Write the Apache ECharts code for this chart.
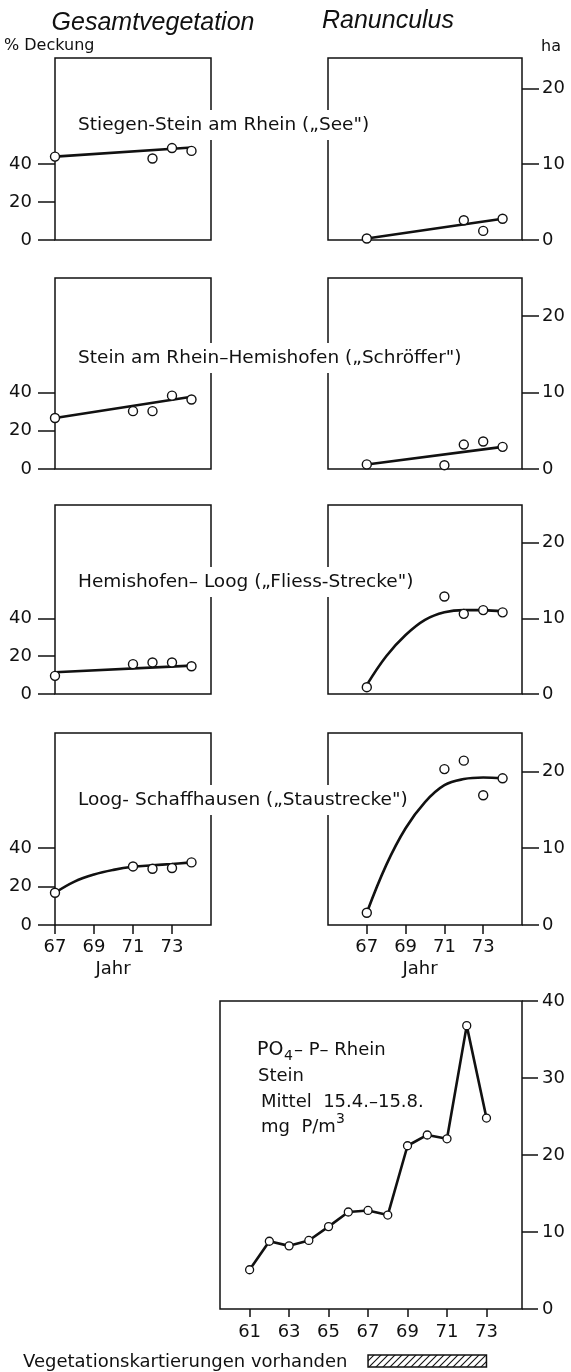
<!DOCTYPE html>
<html>
<head>
<meta charset="utf-8">
<title>Gesamtvegetation / Ranunculus / PO4-P Rhein</title>
<script src="https://cdn.jsdelivr.net/npm/echarts@6/dist/echarts.min.js"></script>
<style>
  html, body { margin: 0; padding: 0; background: #fff; }
  #main { width: 571px; height: 1372px; }
</style>
</head>
<body>
<div id="main"></div>
<script>
// --- Daten: Jahre der Kartierungen ---
var yearsSee = [67, 72, 73, 74];
var yearsOther = [67, 71, 72, 73, 74];

// Gesamtvegetation (% Deckung)
var gesSee = [44, 43, 48.5, 47];
var gesSchroeffer = [26.7, 30.3, 30.3, 38.4, 36.4];
var gesFliess = [9.6, 15.8, 16.7, 16.7, 14.7];
var gesStau = [16.8, 30.5, 29.3, 29.7, 32.6];

// Ranunculus (ha)
var ranSee = [0.2, 2.6, 1.2, 2.8];
var ranSchroeffer = [0.6, 0.5, 3.2, 3.6, 2.9];
var ranFliess = [0.9, 12.9, 10.6, 11.1, 10.8];
var ranStau = [1.6, 20.3, 21.4, 16.9, 19.1];

// Ausgleichslinien
var fitLinYears = [67, 74];
var gesSeeFit = [44, 48.8];
var ranSeeFit = [0.2, 2.8];
var gesSchroefferFit = [26.7, 37.8];
var ranSchroefferFit = [0.6, 2.9];
var gesFliessFit = [11.5, 15];
var fitCurveYears = [67, 68, 69, 70, 71, 72, 73, 74];
var ranFliessFit = [1.2, 5.0, 7.8, 9.8, 10.8, 11.1, 11.1, 10.9];
var gesStauFit = [16.8, 22.6, 26.3, 28.7, 30.3, 31.1, 31.8, 32.6];
var ranStauFit = [1.6, 7.8, 12.6, 16.0, 18.2, 19.0, 19.2, 19.1];

var stationLabels = [
  'Stiegen-Stein am Rhein (\u201eSee")',
  'Stein am Rhein\u2013Hemishofen (\u201eSchr\u00f6ffer")',
  'Hemishofen\u2013 Loog (\u201eFliess-Strecke")',
  'Loog- Schaffhausen (\u201eStaustrecke")'
];

// PO4-P Rhein, Stein
var poYears = [61, 62, 63, 64, 65, 66, 67, 68, 69, 70, 71, 72, 73];
var poValues = [5.1, 8.8, 8.2, 8.9, 10.7, 12.6, 12.8, 12.2, 21.2, 22.6, 22.1, 36.8, 24.8];
var mappingYears = [67, 73];

// tick labels
var gesTicks = [0, 20, 40];
var ranTicks = [0, 10, 20];
var panelYearTicks = [67, 69, 71, 73];
var poYearTicks = [61, 63, 65, 67, 69, 71, 73];
var poTicks = [0, 10, 20, 30, 40];

var FONT = 'DejaVu Sans';
var INK = '#111';

function zip(xs, ys) {
    var res = [];
    for (var i = 0; i < xs.length; i++) {
        res.push([xs[i], ys[i]]);
    }
    return res;
}

// small helper so the option objects stay short
function extend(a, b) {
    for (var k in b) { a[k] = b[k]; }
    return a;
}

var rows = [
    {years: yearsSee, ges: gesSee, ran: ranSee, gesFit: zip(fitLinYears, gesSeeFit), ranFit: zip(fitLinYears, ranSeeFit)},
    {years: yearsOther, ges: gesSchroeffer, ran: ranSchroeffer, gesFit: zip(fitLinYears, gesSchroefferFit), ranFit: zip(fitLinYears, ranSchroefferFit)},
    {years: yearsOther, ges: gesFliess, ran: ranFliess, gesFit: zip(fitLinYears, gesFliessFit), ranFit: zip(fitCurveYears, ranFliessFit)},
    {years: yearsOther, ges: gesStau, ran: ranStau, gesFit: zip(fitCurveYears, gesStauFit), ranFit: zip(fitCurveYears, ranStauFit)}
];

// layout of the four rows
var rowTop = [58, 278, 505, 733];
var rowHeight = [182, 191, 189, 192];
var gesMax = [96, 100, 100, 100];
var ranMax = [24, 25, 25, 25];
var labelY = [125, 358, 582, 800];

var chart = echarts.init(document.getElementById('main'), null, {renderer: 'canvas'});

var grids = [], xAxes = [], yAxes = [], series = [], graphics = [];

var tickStyle = {color: INK, width: 1.5};
var labelStyle = {fontFamily: FONT, fontSize: 18, color: INK};

function addPanel(gi, r, right) {
    var row = rows[r];
    var isBottom = r === 3;
    var fit = right ? row.ranFit : row.gesFit;
    grids.push({
        left: right ? 328 : 55, top: rowTop[r],
        width: right ? 194 : 156, height: rowHeight[r],
        show: true, borderColor: INK, borderWidth: 1.5, backgroundColor: 'transparent'
    });
    xAxes.push({
        gridIndex: gi, type: 'value', min: right ? 65 : 67, max: 75,
        axisLine: {show: false}, splitLine: {show: false},
        axisTick: {show: isBottom, length: 9, customValues: panelYearTicks, lineStyle: tickStyle},
        axisLabel: extend({show: isBottom, customValues: panelYearTicks, margin: 13}, labelStyle)
    });
    var ticks = right ? ranTicks : gesTicks;
    yAxes.push({
        gridIndex: gi, type: 'value', min: 0, max: right ? ranMax[r] : gesMax[r],
        position: right ? 'right' : 'left',
        axisLine: {show: false}, splitLine: {show: false},
        axisTick: {show: true, length: 17, customValues: ticks, lineStyle: tickStyle},
        axisLabel: extend({customValues: ticks, margin: right ? 20 : 23}, labelStyle)
    });
    series.push({
        type: 'line', xAxisIndex: gi, yAxisIndex: gi,
        data: fit,
        smooth: fit.length > 2 ? 0.4 : false,
        showSymbol: false, clip: false, silent: true, z: 2,
        lineStyle: {color: INK, width: 2.6}
    });
    series.push({
        type: 'scatter', xAxisIndex: gi, yAxisIndex: gi,
        data: zip(row.years, right ? row.ran : row.ges),
        symbol: 'circle', symbolSize: 9, clip: false, z: 3,
        itemStyle: {color: '#fff', borderColor: INK, borderWidth: 1.4, opacity: 1}
    });
}

for (var r = 0; r < 4; r++) {
    addPanel(2 * r, r, false);
    addPanel(2 * r + 1, r, true);
    graphics.push({
        type: 'text', left: 74, top: labelY[r] - 15, z: 100,
        style: {
            text: stationLabels[r], font: '18.5px "' + FONT + '"', fill: INK,
            backgroundColor: '#fff', padding: [6, 2, 5, 4]
        }
    });
}

// bottom chart: PO4-P
grids.push({left: 220, top: 1001, width: 302, height: 308, show: true, borderColor: INK, borderWidth: 1.5, backgroundColor: 'transparent'});
xAxes.push({
    gridIndex: 8, type: 'value', min: 59.5, max: 74.8,
    axisLine: {show: false}, splitLine: {show: false},
    axisTick: {length: 8, customValues: poYearTicks, lineStyle: tickStyle},
    axisLabel: extend({customValues: poYearTicks, margin: 14}, labelStyle)
});
yAxes.push({
    gridIndex: 8, type: 'value', min: 0, max: 40, position: 'right',
    axisLine: {show: false}, splitLine: {show: false},
    axisTick: {length: 16, customValues: poTicks, lineStyle: tickStyle},
    axisLabel: extend({customValues: poTicks, margin: 20}, labelStyle)
});
series.push({
    type: 'line', xAxisIndex: 8, yAxisIndex: 8,
    data: zip(poYears, poValues),
    symbol: 'circle', symbolSize: 8, showAllSymbol: true, clip: false,
    lineStyle: {color: INK, width: 2.6},
    itemStyle: {color: '#fff', borderColor: INK, borderWidth: 1.3}
});

// hatched bar for the mapping years, on its own thin grid with the same year scale
var hatch = document.createElement('canvas');
hatch.width = 7; hatch.height = 7;
var hctx = hatch.getContext('2d');
hctx.fillStyle = '#fff';
hctx.fillRect(0, 0, 7, 7);
hctx.strokeStyle = INK;
hctx.lineWidth = 1.1;
hctx.beginPath();
hctx.moveTo(0, 7); hctx.lineTo(7, 0);
hctx.moveTo(-1, 1); hctx.lineTo(1, -1);
hctx.moveTo(6, 8); hctx.lineTo(8, 6);
hctx.stroke();

grids.push({left: 220, top: 1355, width: 302, height: 12});
xAxes.push({gridIndex: 9, type: 'value', min: 59.5, max: 74.8, show: false});
yAxes.push({gridIndex: 9, type: 'value', min: 0, max: 1, show: false});
series.push({
    type: 'custom', xAxisIndex: 9, yAxisIndex: 9,
    data: [mappingYears],
    renderItem: function (params, api) {
        var p0 = api.coord([api.value(0), 1]);
        var p1 = api.coord([api.value(1), 0]);
        return {
            type: 'rect',
            shape: {x: p0[0], y: p0[1], width: p1[0] - p0[0], height: p1[1] - p0[1]},
            style: {fill: {image: hatch, repeat: 'repeat'}, stroke: INK, lineWidth: 1.5}
        };
    }
});

// headings and other text
function txt(x, y, s, size, extra) {
    var st = {text: s, x: x, y: y, font: size + 'px "' + FONT + '"', fill: INK, verticalAlign: 'middle'};
    if (extra) { extend(st, extra); }
    return {type: 'text', z: 100, style: st};
}
graphics.push(txt(153, 23, 'Gesamtvegetation', 25, {font: 'italic 25px "Liberation Sans"', align: 'center'}));
graphics.push(txt(388, 21, 'Ranunculus', 25, {font: 'italic 25px "Liberation Sans"', align: 'center'}));
graphics.push(txt(4, 46, '% Deckung', 16));
graphics.push(txt(541, 47, 'ha', 16));
graphics.push(txt(113, 969, 'Jahr', 18, {align: 'center'}));
graphics.push(txt(420, 969, 'Jahr', 18, {align: 'center'}));
graphics.push(txt(257, 1050, 'PO', 19));
graphics.push(txt(284, 1056, '4', 14));
graphics.push(txt(294, 1050, '\u2013 P\u2013 Rhein', 18));
graphics.push(txt(258, 1076, 'Stein', 18));
graphics.push(txt(261, 1102, 'Mittel  15.4.\u201315.8.', 18));
graphics.push(txt(261, 1127, 'mg  P/m', 18));
graphics.push(txt(336, 1119, '3', 14));
graphics.push(txt(23, 1362, 'Vegetationskartierungen vorhanden', 18));

chart.setOption({
    backgroundColor: '#fff',
    animation: false,
    grid: grids,
    xAxis: xAxes,
    yAxis: yAxes,
    series: series,
    graphic: graphics
});
</script>
</body>
</html>
